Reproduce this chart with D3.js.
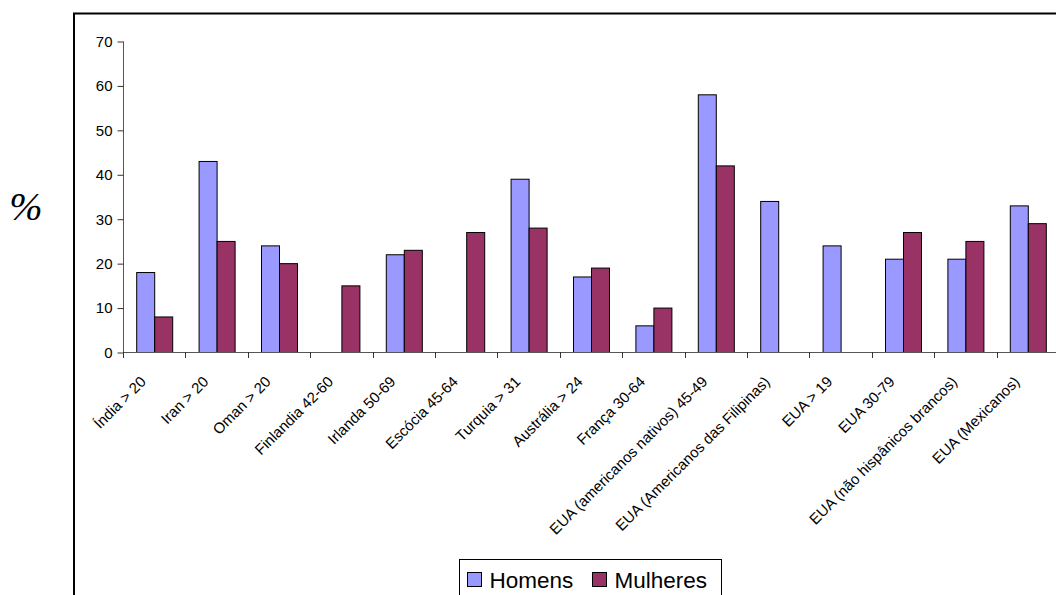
<!DOCTYPE html>
<html>
<head>
<meta charset="utf-8">
<script src="https://cdn.jsdelivr.net/npm/d3@7/dist/d3.min.js"></script>
<style>
  html, body { margin: 0; padding: 0; background: #fff; }
  svg { display: block; }
  text { font-family: "Liberation Sans", Arial, sans-serif; fill: #000; }
</style>
</head>
<body>
<svg id="chart" width="1056" height="595"></svg>
<script>
// Age-group / population categories
const categories = [
  "Índia > 20", "Iran > 20", "Oman > 20", "Finlandia 42-60", "Irlanda 50-69",
  "Escócia 45-64", "Turquia > 31", "Austrália > 24", "França 30-64",
  "EUA (americanos nativos) 45-49", "EUA (Americanos das Filipinas)",
  "EUA > 19", "EUA 30-79", "EUA (não hispânicos brancos)", "EUA (Mexicanos)"
];
// Prevalence (%) by sex; null = no value reported
const homens   = [18, 43, 24, null, 22, null, 39, 17, 6, 58, 34, 24, 21, 21, 33];
const mulheres = [8, 25, 20, 15, 23, 27, 28, 19, 10, 42, null, null, 27, 25, 29];
const seriesNames = ["Homens", "Mulheres"];
const yTicks = [0, 10, 20, 30, 40, 50, 60, 70];

const colors = { Homens: "#9999FF", Mulheres: "#993366" };

const svg = d3.select("#chart");

// Outer chart frame
svg.append("rect")
  .attr("x", 74).attr("y", 13.5)
  .attr("width", 1100).attr("height", 700)
  .attr("fill", "none").attr("stroke", "#000").attr("stroke-width", 2);

const plot = { left: 123, right: 1059, top: 41, bottom: 352 };

const x0 = d3.scaleBand().domain(categories).range([plot.left, plot.right]).padding(0);
const x1 = d3.scaleBand().domain(seriesNames).range([0, x0.bandwidth()])
  .paddingInner(0).paddingOuter(0.733);
const y = d3.scaleLinear().domain([0, 70]).range([plot.bottom, plot.top]);

const rows = categories.map((c, i) => ({
  cat: c,
  vals: [
    { key: "Homens", v: homens[i] },
    { key: "Mulheres", v: mulheres[i] }
  ]
}));

// Bars
const groups = svg.append("g").selectAll("g").data(rows).join("g")
  .attr("transform", d => `translate(${x0(d.cat)},0)`);
groups.selectAll("rect")
  .data(d => d.vals.filter(v => v.v != null))
  .join("rect")
  .attr("x", d => x1(d.key) + 0.5)
  .attr("y", d => y(d.v) + 0.5)
  .attr("width", x1.bandwidth())
  .attr("height", d => y(0) - y(d.v))
  .attr("fill", d => colors[d.key])
  .attr("stroke", "#000").attr("stroke-width", 1);

// Y axis
const yAxis = svg.append("g")
  .attr("transform", `translate(${plot.left + 0.5},0.5)`)
  .call(d3.axisLeft(y).tickValues(yTicks).tickSize(6).tickPadding(5).tickFormat(d3.format("d")));
yAxis.select(".domain").attr("stroke", "#555").attr("d", `M-0,${y(70)}V${y(0)}`);
yAxis.selectAll(".tick line").attr("stroke", "#333");
yAxis.selectAll("text").style("font-size", "15px");

// X axis line with ticks at category boundaries
const xg = svg.append("g");
xg.append("line")
  .attr("x1", plot.left).attr("x2", plot.right)
  .attr("y1", y(0) + 0.5).attr("y2", y(0) + 0.5)
  .attr("stroke", "#555");
const boundaries = categories.map(c => x0(c)).concat([x0(categories[categories.length - 1]) + x0.bandwidth()]);
xg.selectAll("line.tk").data(boundaries).join("line")
  .attr("class", "tk")
  .attr("x1", d => Math.round(d) + 0.5).attr("x2", d => Math.round(d) + 0.5)
  .attr("y1", y(0)).attr("y2", y(0) + 6)
  .attr("stroke", "#333");

// Rotated category labels
xg.selectAll("text").data(categories).join("text")
  .attr("transform", c => `translate(${x0(c) + x0.bandwidth() / 2 - 11},${y(0) + 27}) rotate(-45)`)
  .attr("text-anchor", "end")
  .attr("dy", "0.35em")
  .style("font-size", "15px")
  .text(c => c);

// Y axis title
svg.append("text")
  .attr("x", 26).attr("y", 220)
  .attr("text-anchor", "middle")
  .style("font-family", "'Liberation Serif', 'Times New Roman', serif")
  .style("font-style", "italic")
  .style("font-size", "40px")
  .text("%");

// Legend
const lg = svg.append("g").attr("transform", "translate(459.5,559.5)");
lg.append("rect").attr("width", 262).attr("height", 60)
  .attr("fill", "#fff").attr("stroke", "#000").attr("stroke-width", 1);
const items = lg.selectAll("g").data(seriesNames).join("g")
  .attr("transform", (d, i) => `translate(${i === 0 ? 8 : 133},13)`);
items.append("rect").attr("width", 14).attr("height", 14)
  .attr("fill", d => colors[d]).attr("stroke", "#000").attr("stroke-width", 1);
items.append("text").attr("x", 22).attr("y", 7).attr("dy", "0.36em")
  .style("font-size", "22.5px").text(d => d);
</script>
</body>
</html>
